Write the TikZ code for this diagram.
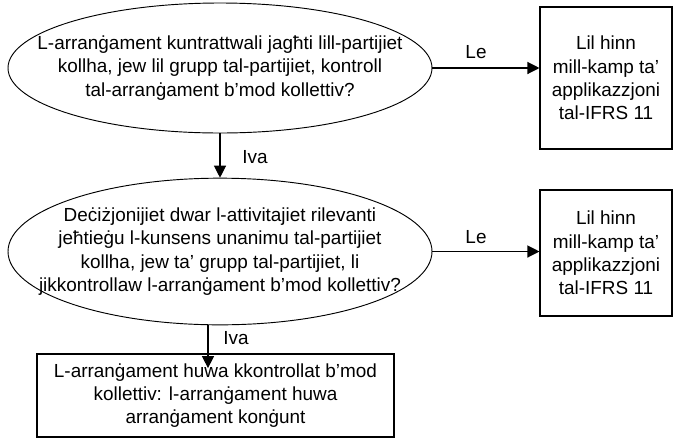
\documentclass[tikz,border=0pt]{standalone}
\usepackage{fontspec}
\setmainfont{Liberation Sans}
\usetikzlibrary{shapes.geometric,arrows.meta}

\begin{document}
\begin{tikzpicture}[
    x=0.75pt, y=-0.75pt,
    txt/.style={font=\fontsize{14.2pt}{17.5pt}\selectfont, align=center},
    dec/.style={txt, ellipse, draw, line width=0.7pt, inner xsep=-40pt, inner ysep=0pt, minimum width=318pt},
    box/.style={txt, draw, line width=0.8pt},
    arr/.style={-{Triangle[length=9pt,width=9pt]}, line width=0.9pt},
    lbl/.style={font=\fontsize{14.2pt}{17.5pt}\selectfont},
  ]
    \useasboundingbox (0,0) rectangle (679,444);

    % === Questions ===
    \node[dec, minimum height=97.5pt] (q1) at (220,68)
      {L-arranġament kuntrattwali jagħti lill-partijiet\\
       kollha, jew lil grupp tal-partijiet, kontroll\\
       tal-arranġament b’mod kollettiv?};
    \node[dec, minimum height=110pt] (q2) at (220,251.5)
      {Deċiżjonijiet dwar l-attivitajiet rilevanti\\
       jeħtieġu l-kunsens unanimu tal-partijiet\\
       kollha, jew ta’ grupp tal-partijiet, li\\
       jikkontrollaw l-arranġament b’mod kollettiv?};

    % === Outside the scope ===
    \node[box, minimum width=99pt, minimum height=106.5pt] (out1) at (606,78)
      {Lil hinn\\ mill-kamp ta’\\ applikazzjoni\\ tal-IFRS 11};
    \node[box, minimum width=99pt, minimum height=94.5pt] (out2) at (606,253)
      {Lil hinn\\ mill-kamp ta’\\ applikazzjoni\\ tal-IFRS 11};

    % === Joint arrangement ===
    \node[box, minimum width=267.75pt, minimum height=62.25pt] (ja) at (215.5,395.5)
      {L-arranġament huwa kkontrollat b’mod\\
       kollettiv: l-arranġament huwa\\
       arranġament konġunt};

    % Le
    \draw[arr] (q1.east) -- (q1.east -| out1.west);
    \draw[arr] (q2.east) -- (q2.east -| out2.west);
    \node[lbl] (le1) at (476,52) {Le};
    \node[lbl] (le2) at (476,237) {Le};

    % Iva
    \draw[arr] (q1.south) -- (q2.north);
    \draw[arr] ([xshift=-9pt]q2.south) -- ([xshift=-9pt, yshift=-11pt]q2.south |- ja.north);
    \node[lbl] (iva1) at (255,157) {Iva};
    \node[lbl] (iva2) at (236,338) {Iva};
  \end{tikzpicture}
\end{document}
